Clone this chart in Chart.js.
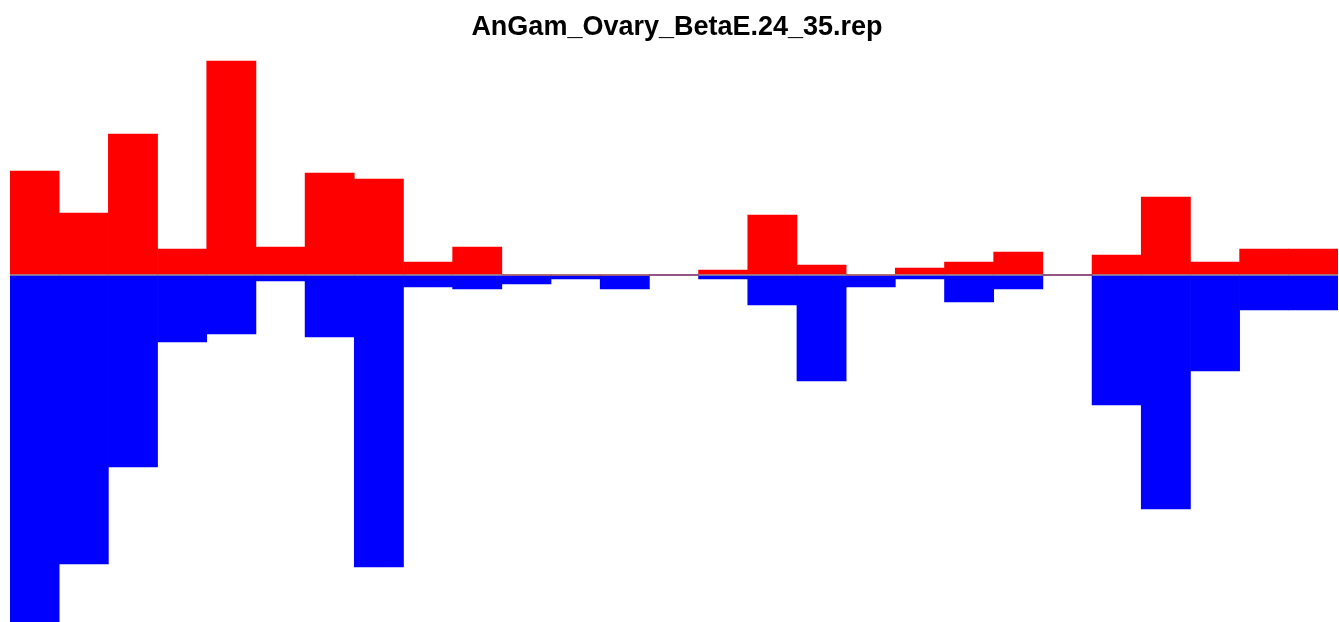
<!DOCTYPE html>
<html>
<head>
<meta charset="utf-8">
<script src="https://cdn.jsdelivr.net/npm/chart.js@4"></script>
<style>
  html, body { margin: 0; padding: 0; background: #fff; }
  #wrap { position: relative; width: 1339px; height: 622px; }
  #title {
    position: absolute; left: 0; top: 11px; width: 1354px; text-align: center;
    font: bold 27px "Liberation Sans", Arial, sans-serif; line-height: 31px; color: #000;
  }
  canvas { position: absolute; left: 0; top: 0; }
</style>
</head>
<body>
<div id="wrap">
  <canvas id="chart-rep" width="1339" height="622"></canvas>
  <div id="title">AnGam_Ovary_BetaE.24_35.rep</div>
</div>
<script>
const labels = Array.from({ length: 27 }, (_, i) => String(i + 1));
const upValues = [104, 62, 141, 26, 214, 28, 102, 96, 13, 28, 0, 0, 0, 0, 5, 60, 10, 0, 7, 13, 23, 0, 20, 78, 13, 26, 26];
const downValues = [347, 289, 192, 67, 59, 6, 62, 292, 12, 14, 9, 4, 14, 0, 4, 30, 106, 12, 4, 27, 14, 0, 130, 234, 96, 35, 35];
const yMax = 275;
const yMin = -347;

const canvas = document.getElementById('chart-rep');
new Chart(canvas, {
  type: 'bar',
  data: {
    labels,
    datasets: [
      {
        label: 'up',
        data: upValues,
        backgroundColor: '#ff0000',
        borderWidth: 0,
        barPercentage: 1,
        categoryPercentage: 1,
      },
      {
        label: 'down',
        data: downValues.map(v => -v),
        backgroundColor: '#0000ff',
        borderWidth: 0,
        barPercentage: 1,
        categoryPercentage: 1,
      },
    ],
  },
  options: {
    responsive: false,
    animation: false,
    layout: { padding: { left: 10, right: 1, top: 0, bottom: 0 } },
    plugins: {
      legend: { display: false },
      tooltip: { enabled: false },
    },
    scales: {
      x: { stacked: true, display: false },
      y: {
        stacked: true,
        min: yMin,
        max: yMax,
        afterBuildTicks: axis => { axis.ticks = [{ value: 0 }]; },
        ticks: { display: false },
        border: { display: false },
        grid: { drawTicks: false, color: '#999999', lineWidth: 2 },
      },
    },
  },
});
</script>
</body>
</html>
